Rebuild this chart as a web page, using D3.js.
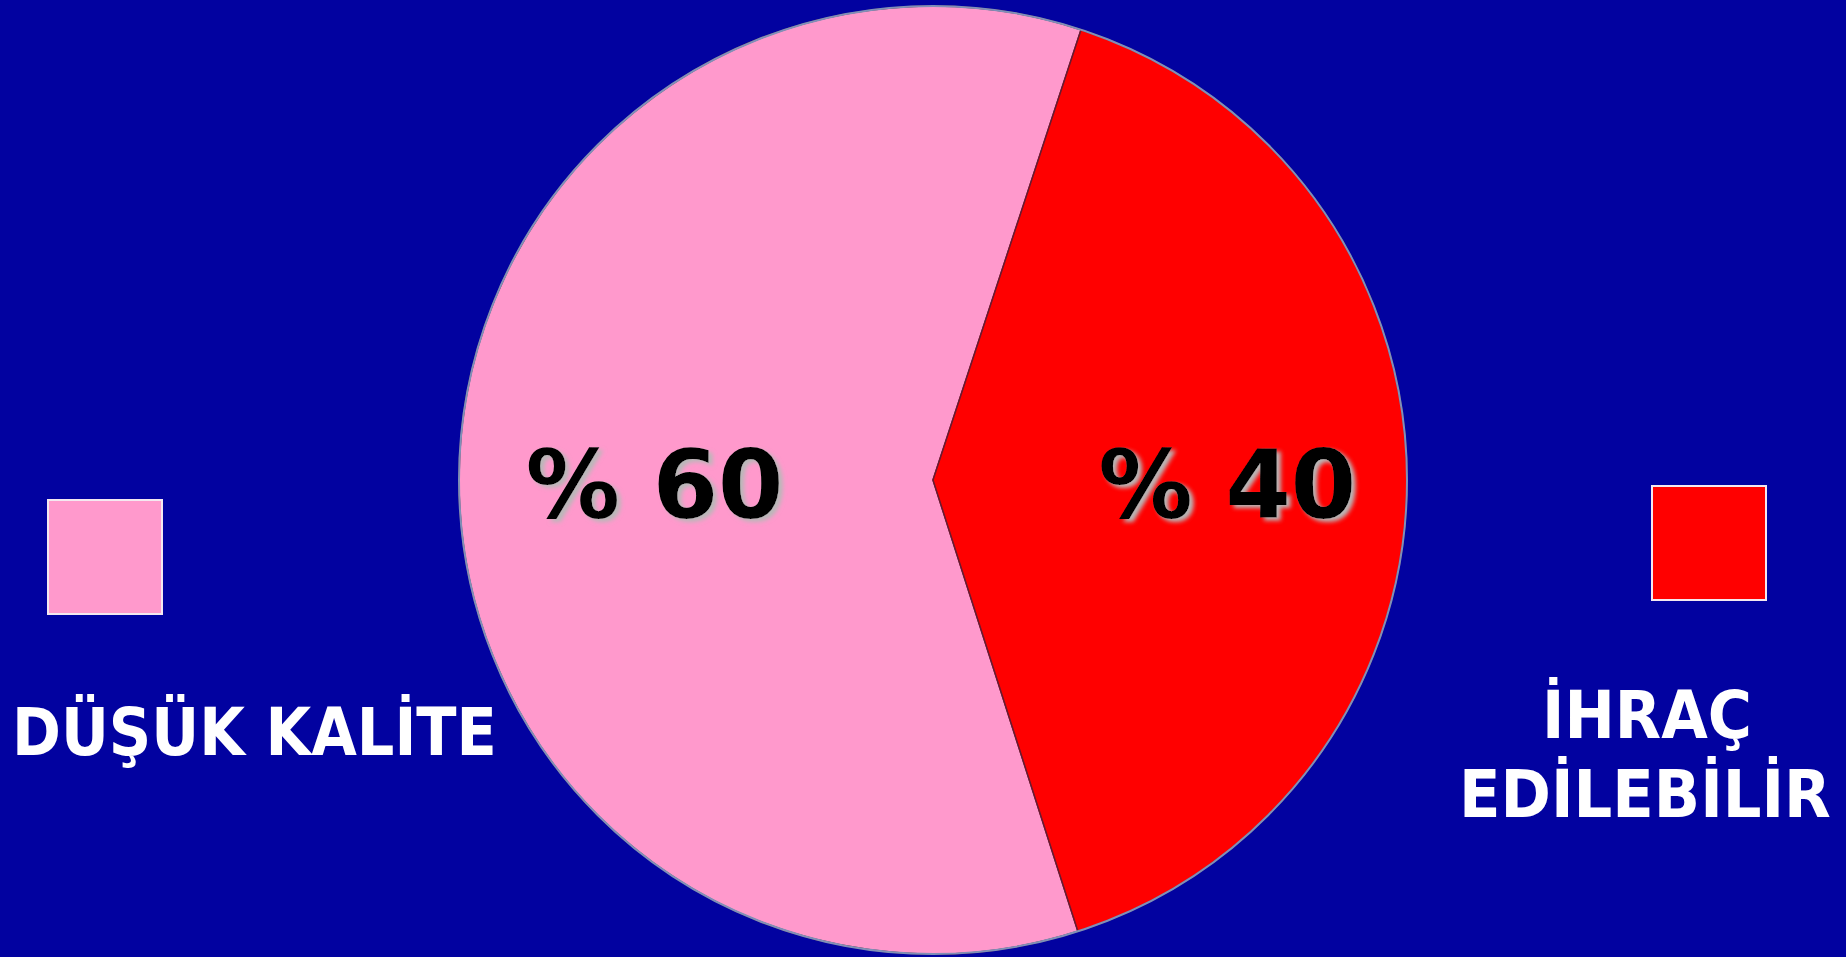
<!DOCTYPE html>
<html><head><meta charset="utf-8">
<script src="https://cdn.jsdelivr.net/npm/d3@7"></script>
<style>html,body{margin:0;padding:0;background:#0202A0;overflow:hidden}</style>
</head><body>
<svg id="c" width="1846" height="957"></svg>
<script>
const categories = ["DÜŞÜK KALİTE", "İHRAÇ EDİLEBİLİR"];
const values = [60, 40];
const valueLabels = ["% 60", "% 40"];
const colors = ["#FF99CC", "#FF0000"];
const legendLines = [["DÜŞÜK KALİTE"], ["İHRAÇ", "EDİLEBİLİR"]];

const W = 1846, H = 957;
const svg = d3.select("#c");
svg.append("rect").attr("width", W).attr("height", H).attr("fill", "#0202A0");

const defs = svg.append("defs");
const f = defs.append("filter").attr("id", "sh").attr("x", "-20%").attr("y", "-20%").attr("width", "140%").attr("height", "140%");
f.append("feGaussianBlur").attr("in", "SourceAlpha").attr("stdDeviation", 2).attr("result", "b");
f.append("feOffset").attr("in", "b").attr("dx", 4).attr("dy", 3).attr("result", "o");
f.append("feFlood").attr("flood-color", "#b8b8b8").attr("result", "c");
f.append("feComposite").attr("in", "c").attr("in2", "o").attr("operator", "in").attr("result", "s");
const m = f.append("feMerge");
m.append("feMergeNode").attr("in", "s");
m.append("feMergeNode").attr("in", "SourceGraphic");

const cx = 933, cy = 480, R = 474;
const deg = Math.PI / 180;
const start = 162.2 * deg;
const pie = d3.pie().sort(null).startAngle(start).endAngle(start + 2 * Math.PI);
const arcs = pie(values);
const arc = d3.arc().innerRadius(0).outerRadius(R);
const g = svg.append("g").attr("transform", `translate(${cx},${cy})`);
g.selectAll("path.s").data(arcs).join("path").attr("class", "s")
  .attr("d", arc).attr("fill", (d, i) => colors[i])
  .attr("stroke", "#6a1a30").attr("stroke-width", 1.5).attr("stroke-linejoin", "round");
g.append("circle").attr("r", R).attr("fill", "none").attr("stroke", "#7f90b8").attr("stroke-width", 2);

const labelArc = d3.arc().innerRadius(R * 0.6).outerRadius(R * 0.6);
g.selectAll("text.v").data(arcs).join("text").attr("class", "v")
  .attr("x", (d, i) => labelArc.centroid(d)[0] + (i === 0 ? 6 : 10))
  .attr("y", 38)
  .attr("text-anchor", "middle")
  .attr("font-family", "DejaVu Sans, Verdana, sans-serif")
  .attr("font-weight", "bold").attr("font-size", 94)
  .attr("fill", "#000").attr("filter", "url(#sh)")
  .text((d, i) => valueLabels[i]);

// legend
const sq = [{x: 48, y: 500}, {x: 1652, y: 486}];
const size = 114;
svg.selectAll("rect.lg").data(categories).join("rect").attr("class", "lg")
  .attr("x", (d, i) => sq[i].x).attr("y", (d, i) => sq[i].y)
  .attr("width", size).attr("height", size)
  .attr("fill", (d, i) => colors[i]).attr("stroke", "#f4e8f0").attr("stroke-width", 2);

const txt = [
  [{x: 12, y: 755, w: 485}],
  [{x: 1542, y: 738, w: 210}, {x: 1459, y: 817, w: 372}]
];
categories.forEach((c, i) => {
  legendLines[i].forEach((line, j) => {
    const p = txt[i][j];
    const tg = svg.append("g");
    const t = tg.append("text").attr("x", 0).attr("y", 0)
      .attr("font-family", "DejaVu Sans, sans-serif").attr("font-weight", "bold")
      .attr("font-size", 66).attr("fill", "#fff")
      .text(line);
    const nat = t.node().getComputedTextLength();
    tg.attr("transform", `translate(${p.x},${p.y}) scale(${p.w / nat},1)`);
  });
});
</script>
</body></html>
